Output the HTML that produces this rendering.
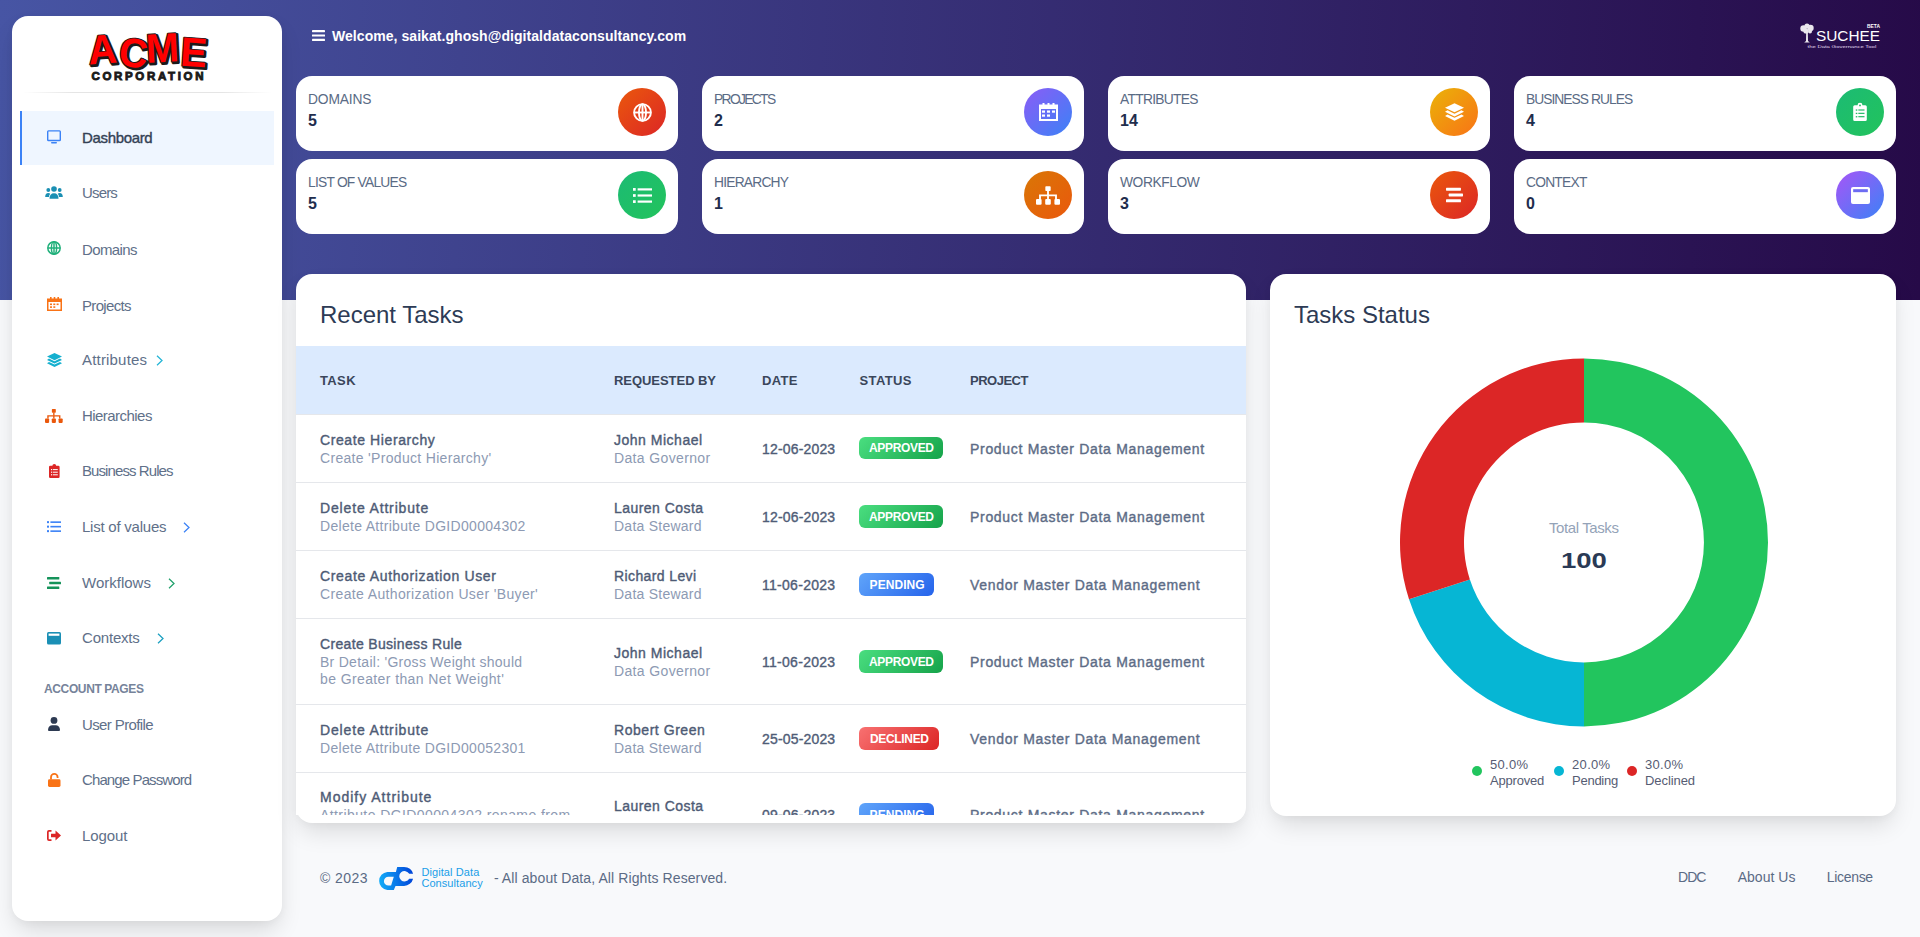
<!DOCTYPE html><html><head><meta charset="utf-8"><style>
*{box-sizing:border-box;margin:0;padding:0}
html,body{width:1920px;height:937px;overflow:hidden}
body{background:#f8f9fb;font-family:"Liberation Sans",sans-serif;position:relative}
.t{position:absolute;white-space:nowrap}
.abs{position:absolute}
.hdr{position:absolute;left:0;top:0;width:1920px;height:300px;background:linear-gradient(92deg,#4755a4 0%,#260a48 100%)}
.side{position:absolute;left:12px;top:16px;width:270px;height:905px;background:#fff;border-radius:16px;box-shadow:0 12px 24px -4px rgba(0,0,0,.14),0 2px 8px rgba(0,0,0,.03)}
.card{position:absolute;background:#fff;border-radius:16px}
.ic{position:absolute;width:48px;height:48px;border-radius:50%}
.big{position:absolute;background:#fff;border-radius:16px;box-shadow:0 12px 24px -4px rgba(0,0,0,.13),0 2px 8px rgba(0,0,0,.03)}
svg{position:absolute;overflow:visible}
</style></head><body>
<div class="hdr"></div>
<div class="side"></div><svg style="left:0;top:0" width="300" height="100" viewBox="0 0 300 100">
<g font-family="Liberation Sans" font-weight="700">
<text x="89" y="64.5 65.5 63 65.5" font-size="41" fill="#1a1a1a" stroke="#1a1a1a" stroke-width="3" stroke-linejoin="round" rotate="-4 6 -3 4" textLength="117" lengthAdjust="spacingAndGlyphs" transform="translate(1.5,1.2)">ACME</text>
<text x="89" y="64.5 65.5 63 65.5" font-size="41" fill="#ff0000" stroke="#1a1a1a" stroke-width="1.8" stroke-linejoin="round" paint-order="stroke" rotate="-4 6 -3 4" textLength="117" lengthAdjust="spacingAndGlyphs">ACME</text>
<text x="91.5" y="80.3" font-size="11.5" fill="#1a1a1a" stroke="#1a1a1a" stroke-width="0.9" textLength="112" lengthAdjust="spacing">CORPORATION</text>
</g></svg><div class="abs" style="left:22px;top:92px;width:250px;height:1px;background:linear-gradient(90deg,rgba(0,0,0,0),rgba(0,0,0,.10) 20%,rgba(0,0,0,.10) 80%,rgba(0,0,0,0))"></div><div class="abs" style="left:20px;top:111px;width:254px;height:54px;background:#eff6ff;border-left:2px solid #3b82f6"></div><div class="t" style="left:82.00px;top:130.38px;font-size:15px;line-height:15px;font-weight:400;color:#334155;-webkit-text-stroke:0.38px #334155;letter-spacing:-0.335px;">Dashboard</div><div class="t" style="left:82.00px;top:185.30px;font-size:15px;line-height:15px;font-weight:400;color:#607089;letter-spacing:-0.842px;">Users</div><div class="t" style="left:82.00px;top:241.55px;font-size:15px;line-height:15px;font-weight:400;color:#607089;letter-spacing:-0.615px;">Domains</div><div class="t" style="left:82.00px;top:297.50px;font-size:15px;line-height:15px;font-weight:400;color:#607089;letter-spacing:-0.669px;">Projects</div><div class="t" style="left:82.00px;top:352.20px;font-size:15px;line-height:15px;font-weight:400;color:#607089;letter-spacing:0.182px;">Attributes</div><div class="t" style="left:82.00px;top:407.95px;font-size:15px;line-height:15px;font-weight:400;color:#607089;letter-spacing:-0.546px;">Hierarchies</div><div class="t" style="left:82.00px;top:463.20px;font-size:15px;line-height:15px;font-weight:400;color:#607089;letter-spacing:-0.914px;">Business Rules</div><div class="t" style="left:82.00px;top:519.20px;font-size:15px;line-height:15px;font-weight:400;color:#607089;letter-spacing:-0.234px;">List of values</div><div class="t" style="left:82.00px;top:575.10px;font-size:15px;line-height:15px;font-weight:400;color:#607089;">Workflows</div><div class="t" style="left:82.00px;top:630.36px;font-size:15px;line-height:15px;font-weight:400;color:#607089;letter-spacing:-0.199px;">Contexts</div><div class="t" style="left:82.00px;top:717.20px;font-size:15px;line-height:15px;font-weight:400;color:#607089;letter-spacing:-0.614px;">User Profile</div><div class="t" style="left:82.00px;top:772.10px;font-size:15px;line-height:15px;font-weight:400;color:#607089;letter-spacing:-0.884px;">Change Password</div><div class="t" style="left:82.00px;top:828.00px;font-size:15px;line-height:15px;font-weight:400;color:#607089;letter-spacing:-0.096px;">Logout</div><div class="t" style="left:44.00px;top:682.84px;font-size:12px;line-height:12px;font-weight:700;color:#76839a;letter-spacing:-0.374px;">ACCOUNT PAGES</div><svg style="left:155.5px;top:354.5px" width="7" height="11" viewBox="0 0 7 11"><path d="M1 0.8 L6 5.5 L1 10.2" fill="none" stroke="#22b5d6" stroke-width="1.25"/></svg><svg style="left:182.5px;top:521.5px" width="7" height="11" viewBox="0 0 7 11"><path d="M1 0.8 L6 5.5 L1 10.2" fill="none" stroke="#3b82f6" stroke-width="1.25"/></svg><svg style="left:167.5px;top:577.5px" width="7" height="11" viewBox="0 0 7 11"><path d="M1 0.8 L6 5.5 L1 10.2" fill="none" stroke="#20a06b" stroke-width="1.25"/></svg><svg style="left:156.5px;top:632.5px" width="7" height="11" viewBox="0 0 7 11"><path d="M1 0.8 L6 5.5 L1 10.2" fill="none" stroke="#1a9fc0" stroke-width="1.25"/></svg><svg style="left:47px;top:130px" width="14" height="14" viewBox="0 0 14 14"><rect x="0.7" y="0.9" width="12.6" height="9.6" rx="0.8" fill="none" stroke="#3b82f6" stroke-width="1.4"/><rect x="4" y="12" width="6" height="1.6" rx="0.8" fill="#3b82f6"/></svg><svg style="left:45px;top:186px" width="18" height="13" viewBox="0 0 18 13" fill="#1a8fb3"><circle cx="9" cy="3" r="2.8"/><circle cx="3.3" cy="4" r="1.9"/><circle cx="14.7" cy="4" r="1.9"/><path d="M4.5 12.8 C4.5 9 6 7.2 9 7.2 C12 7.2 13.5 9 13.5 12.8 Z"/><path d="M0.2 11 C0.2 8.3 1.3 7 3.3 7 C4.2 7 4.8 7.3 5.2 7.7 C4.4 8.6 4 9.8 4 11 Z"/><path d="M17.8 11 C17.8 8.3 16.7 7 14.7 7 C13.8 7 13.2 7.3 12.8 7.7 C13.6 8.6 14 9.8 14 11 Z"/></svg><svg style="left:47px;top:241px" width="14" height="14" viewBox="0 0 14 14"><g fill="none" stroke="#21b07b" stroke-width="1.5"><circle cx="7" cy="7" r="6.2"/><ellipse cx="7" cy="7" rx="2.6" ry="6.2"/><line x1="7" y1="0.8" x2="7" y2="13.2"/><line x1="0.8" y1="7" x2="13.2" y2="7"/></g></svg><svg style="left:47px;top:297px" width="15" height="14" viewBox="0 0 15 14"><path fill="#f97316" d="M0 1.5 H15 V14 H0 Z M1.5 5 V12.5 H13.5 V5 Z"/><rect x="3" y="0" width="1.6" height="2.5" fill="#f97316"/><rect x="6.7" y="0" width="1.6" height="2.5" fill="#f97316"/><rect x="10.4" y="0" width="1.6" height="2.5" fill="#f97316"/><g fill="#f97316"><rect x="3" y="6.5" width="2" height="1.6"/><rect x="6.3" y="6.5" width="2" height="1.6"/><rect x="9.6" y="6.5" width="2" height="1.6"/><rect x="3" y="9.3" width="2" height="1.6"/><rect x="6.3" y="9.3" width="2" height="1.6"/></g></svg><svg style="left:46.5px;top:353px" width="15" height="14" viewBox="0 0 15 14" fill="#15b0cf"><path d="M7.5 0 L15 3.6 L7.5 7.2 L0 3.6 Z"/><path d="M2 5.6 L7.5 8.3 L13 5.6 L15 6.9 L7.5 10.5 L0 6.9 Z"/><path d="M2 8.9 L7.5 11.6 L13 8.9 L15 10.2 L7.5 14 L0 10.2 Z"/></svg><svg style="left:45.3px;top:409px" width="17.7" height="14" viewBox="0 0 18 14" fill="#ea580c"><rect x="7" y="0" width="4" height="3.6" rx="0.6"/><rect x="8.3" y="3.4" width="1.4" height="3.4"/><path d="M2.3 9.6 V6.2 H15.7 V9.6 H14.3 V7.6 H3.7 V9.6 Z"/><rect x="8.3" y="7" width="1.4" height="2.6"/><rect x="0" y="9.6" width="4.2" height="4.4" rx="0.8"/><rect x="6.9" y="9.6" width="4.2" height="4.4" rx="0.8"/><rect x="13.8" y="9.6" width="4.2" height="4.4" rx="0.8"/></svg><svg style="left:48.9px;top:464px" width="10.6" height="14" viewBox="0 0 10.6 14"><path fill="#dc2626" d="M1.2 1.8 H3.4 A1.9 1.9 0 0 1 7.2 1.8 H9.4 A1.2 1.2 0 0 1 10.6 3 V12.8 A1.2 1.2 0 0 1 9.4 14 H1.2 A1.2 1.2 0 0 1 0 12.8 V3 A1.2 1.2 0 0 1 1.2 1.8 Z"/><g fill="#fff"><rect x="2" y="5" width="1.2" height="1.2"/><rect x="4" y="5.1" width="4.8" height="1"/><rect x="2" y="7.6" width="1.2" height="1.2"/><rect x="4" y="7.7" width="4.8" height="1"/><rect x="2" y="10.2" width="1.2" height="1.2"/><rect x="4" y="10.3" width="4.8" height="1"/></g></svg><svg style="left:47px;top:521px" width="14" height="11.3" viewBox="0 0 14 11" fill="#3b82f6"><rect x="0" y="0" width="2" height="2"/><rect x="3.4" y="0.2" width="10.6" height="1.6"/><rect x="0" y="4.5" width="2" height="2"/><rect x="3.4" y="4.7" width="10.6" height="1.6"/><rect x="0" y="9" width="2" height="2"/><rect x="3.4" y="9.2" width="10.6" height="1.6"/></svg><svg style="left:47px;top:576.7px" width="14" height="12" viewBox="0 0 14 12" fill="#15935a"><rect x="0" y="0" width="12.3" height="2.4" rx="0.5"/><rect x="2.2" y="4.8" width="11.8" height="2.4" rx="0.5"/><rect x="0" y="9.6" width="12.3" height="2.4" rx="0.5"/></svg><svg style="left:47px;top:631.5px" width="14" height="12.5" viewBox="0 0 14 12.5"><rect x="0" y="0" width="14" height="12.5" rx="1.5" fill="#1a8fb5"/><rect x="1.6" y="1.6" width="10.8" height="2.2" fill="#ffffff"/></svg><svg style="left:48.3px;top:717px" width="12" height="14" viewBox="0 0 12 14" fill="#2d3a52"><circle cx="6" cy="3.4" r="3.4"/><path d="M0 13 C0 9.8 2 8.2 4.2 8.2 H7.8 C10 8.2 12 9.8 12 13 A1 1 0 0 1 11 14 H1 A1 1 0 0 1 0 13 Z"/></svg><svg style="left:47.9px;top:772.8px" width="12.5" height="14" viewBox="0 0 12.5 14"><path d="M3 6.5 V4.2 A3.3 3.3 0 0 1 9.6 4.2 V5" fill="none" stroke="#f97316" stroke-width="1.8"/><rect x="0" y="6.3" width="12.5" height="7.7" rx="1.4" fill="#f97316"/></svg><svg style="left:46.9px;top:830.4px" width="14" height="11" viewBox="0 0 14 11" fill="#dc2626"><path d="M4.5 0 H2 A2 2 0 0 0 0 2 V9 A2 2 0 0 0 2 11 H4.5 V9.3 H2 A0.3 0.3 0 0 1 1.7 9 V2 A0.3 0.3 0 0 1 2 1.7 H4.5 Z"/><path d="M8.5 0.6 L14 5.5 L8.5 10.4 V7.3 H4 V3.7 H8.5 Z"/></svg><svg style="left:312px;top:30px" width="13" height="11" viewBox="0 0 13 11" fill="#fff"><rect x="0" y="0" width="13" height="2.2" rx="0.4"/><rect x="0" y="4.4" width="13" height="2.2" rx="0.4"/><rect x="0" y="8.8" width="13" height="2.2" rx="0.4"/></svg><div class="t" style="left:332.00px;top:28.55px;font-size:14px;line-height:14px;font-weight:700;color:#ffffff;letter-spacing:0.055px;">Welcome, saikat.ghosh@digitaldataconsultancy.com</div><svg style="left:0;top:0" width="1920" height="60" viewBox="0 0 1920 60"><g fill="#fff" opacity="0.9"><circle cx="1803.5" cy="28.5" r="3.2"/><circle cx="1807" cy="26" r="2.6"/><circle cx="1810.5" cy="28" r="3.2"/><circle cx="1806" cy="31" r="2.6"/><circle cx="1810" cy="31.5" r="2"/><path d="M1806.2 31 H1807.8 L1808 41 L1809.8 42.5 H1804.2 L1806 41 Z"/></g>
<text x="1816" y="40.6" font-family="Liberation Sans" font-size="15.5" fill="#fff" textLength="64" lengthAdjust="spacingAndGlyphs">SUCHEE</text>
<text x="1867" y="27.9" font-family="Liberation Sans" font-weight="700" font-size="4.6" fill="#fff" textLength="13" lengthAdjust="spacingAndGlyphs">BETA</text>
<text x="1807.5" y="48" font-family="Liberation Sans" font-size="4" fill="#e2dcf0" textLength="68.7" lengthAdjust="spacingAndGlyphs">the Data Governance Tool</text></svg><div class="card" style="left:296px;top:76px;width:382px;height:75px"></div><div class="t" style="left:308.00px;top:92.52px;font-size:13.8px;line-height:13.8px;font-weight:400;color:#5a6b85;letter-spacing:-0.148px;">DOMAINS</div><div class="t" style="left:308.00px;top:113.26px;font-size:16px;line-height:16px;font-weight:700;color:#1f2d4d;">5</div><div class="ic" style="left:618px;top:88px;background:linear-gradient(135deg,#ea580c,#dc2626)"></div><svg style="left:632.5px;top:102.5px" width="19" height="19" viewBox="0 0 14 14"><g fill="none" stroke="#fff" stroke-width="1.4"><circle cx="7" cy="7" r="6.2"/><ellipse cx="7" cy="7" rx="2.6" ry="6.2"/><line x1="7" y1="0.8" x2="7" y2="13.2"/><line x1="0.8" y1="7" x2="13.2" y2="7"/></g></svg><div class="card" style="left:702px;top:76px;width:382px;height:75px"></div><div class="t" style="left:714.00px;top:92.52px;font-size:13.8px;line-height:13.8px;font-weight:400;color:#5a6b85;letter-spacing:-1.641px;">PROJECTS</div><div class="t" style="left:714.00px;top:113.26px;font-size:16px;line-height:16px;font-weight:700;color:#1f2d4d;">2</div><div class="ic" style="left:1024px;top:88px;background:linear-gradient(135deg,#8b5cf6,#3b82f6)"></div><svg style="left:1038.5px;top:103px" width="19" height="18" viewBox="0 0 19 18"><path fill="#fff" d="M0 1.5 H19 V18 H0 Z M2 6 V16 H17 V6 Z"/><g fill="#fff"><rect x="3.5" y="0" width="2" height="3"/><rect x="8.5" y="0" width="2" height="3"/><rect x="13.5" y="0" width="2" height="3"/><rect x="3" y="7.5" width="3" height="2.2"/><rect x="8" y="7.5" width="3" height="2.2"/><rect x="13" y="7.5" width="3" height="2.2"/><rect x="3" y="11.5" width="3" height="2.2"/><rect x="8" y="11.5" width="3" height="2.2"/></g></svg><div class="card" style="left:1108px;top:76px;width:382px;height:75px"></div><div class="t" style="left:1120.00px;top:92.52px;font-size:13.8px;line-height:13.8px;font-weight:400;color:#5a6b85;letter-spacing:-0.703px;">ATTRIBUTES</div><div class="t" style="left:1120.00px;top:113.26px;font-size:16px;line-height:16px;font-weight:700;color:#1f2d4d;">14</div><div class="ic" style="left:1430px;top:88px;background:linear-gradient(135deg,#eab308,#f97316)"></div><svg style="left:1444.5px;top:103px" width="19" height="18" viewBox="0 0 15 14" fill="#fff"><path d="M7.5 0 L15 3.6 L7.5 7.2 L0 3.6 Z"/><path d="M2 5.6 L7.5 8.3 L13 5.6 L15 6.9 L7.5 10.5 L0 6.9 Z"/><path d="M2 8.9 L7.5 11.6 L13 8.9 L15 10.2 L7.5 14 L0 10.2 Z"/></svg><div class="card" style="left:1514px;top:76px;width:382px;height:75px"></div><div class="t" style="left:1526.00px;top:92.52px;font-size:13.8px;line-height:13.8px;font-weight:400;color:#5a6b85;letter-spacing:-0.962px;">BUSINESS RULES</div><div class="t" style="left:1526.00px;top:113.26px;font-size:16px;line-height:16px;font-weight:700;color:#1f2d4d;">4</div><div class="ic" style="left:1836px;top:88px;background:linear-gradient(135deg,#1cbb74,#22c35c)"></div><svg style="left:1853px;top:103px" width="14" height="18" viewBox="0 0 10.6 14"><path fill="#fff" d="M1.2 1.8 H3.4 A1.9 1.9 0 0 1 7.2 1.8 H9.4 A1.2 1.2 0 0 1 10.6 3 V12.8 A1.2 1.2 0 0 1 9.4 14 H1.2 A1.2 1.2 0 0 1 0 12.8 V3 A1.2 1.2 0 0 1 1.2 1.8 Z"/><g fill="#1fba63"><circle cx="5.3" cy="1.9" r="0.7"/><rect x="2" y="5" width="1.2" height="1"/><rect x="4" y="5" width="4.8" height="0.9"/><rect x="2" y="7.6" width="1.2" height="1"/><rect x="4" y="7.6" width="4.8" height="0.9"/><rect x="2" y="10.2" width="1.2" height="1"/><rect x="4" y="10.2" width="4.8" height="0.9"/></g></svg><div class="card" style="left:296px;top:159px;width:382px;height:75px"></div><div class="t" style="left:308.00px;top:175.52px;font-size:13.8px;line-height:13.8px;font-weight:400;color:#5a6b85;letter-spacing:-0.768px;">LIST OF VALUES</div><div class="t" style="left:308.00px;top:196.26px;font-size:16px;line-height:16px;font-weight:700;color:#1f2d4d;">5</div><div class="ic" style="left:618px;top:171px;background:linear-gradient(135deg,#1cbb74,#22c35c)"></div><svg style="left:632.5px;top:187.5px" width="19" height="15" viewBox="0 0 14 11" fill="#fff"><rect x="0" y="0" width="2" height="2"/><rect x="3.4" y="0.2" width="10.6" height="1.6"/><rect x="0" y="4.5" width="2" height="2"/><rect x="3.4" y="4.7" width="10.6" height="1.6"/><rect x="0" y="9" width="2" height="2"/><rect x="3.4" y="9.2" width="10.6" height="1.6"/></svg><div class="card" style="left:702px;top:159px;width:382px;height:75px"></div><div class="t" style="left:714.00px;top:175.52px;font-size:13.8px;line-height:13.8px;font-weight:400;color:#5a6b85;letter-spacing:-0.782px;">HIERARCHY</div><div class="t" style="left:714.00px;top:196.26px;font-size:16px;line-height:16px;font-weight:700;color:#1f2d4d;">1</div><div class="ic" style="left:1024px;top:171px;background:linear-gradient(135deg,#d97706,#ea580c)"></div><svg style="left:1036px;top:185.5px" width="24" height="19" viewBox="0 0 18 14" fill="#fff"><rect x="7" y="0" width="4" height="3.6" rx="0.6"/><rect x="8.3" y="3.4" width="1.4" height="3.4"/><path d="M2.3 9.6 V6.2 H15.7 V9.6 H14.3 V7.6 H3.7 V9.6 Z"/><rect x="8.3" y="7" width="1.4" height="2.6"/><rect x="0" y="9.6" width="4.2" height="4.4" rx="0.8"/><rect x="6.9" y="9.6" width="4.2" height="4.4" rx="0.8"/><rect x="13.8" y="9.6" width="4.2" height="4.4" rx="0.8"/></svg><div class="card" style="left:1108px;top:159px;width:382px;height:75px"></div><div class="t" style="left:1120.00px;top:175.52px;font-size:13.8px;line-height:13.8px;font-weight:400;color:#5a6b85;letter-spacing:-0.439px;">WORKFLOW</div><div class="t" style="left:1120.00px;top:196.26px;font-size:16px;line-height:16px;font-weight:700;color:#1f2d4d;">3</div><div class="ic" style="left:1430px;top:171px;background:linear-gradient(135deg,#ea580c,#dc2626)"></div><svg style="left:1445.5px;top:187px" width="17" height="16" viewBox="0 0 14 12" fill="#fff"><rect x="0" y="0" width="12.3" height="2.4" rx="0.5"/><rect x="2.2" y="4.8" width="11.8" height="2.4" rx="0.5"/><rect x="0" y="9.6" width="12.3" height="2.4" rx="0.5"/></svg><div class="card" style="left:1514px;top:159px;width:382px;height:75px"></div><div class="t" style="left:1526.00px;top:175.52px;font-size:13.8px;line-height:13.8px;font-weight:400;color:#5a6b85;letter-spacing:-0.769px;">CONTEXT</div><div class="t" style="left:1526.00px;top:196.26px;font-size:16px;line-height:16px;font-weight:700;color:#1f2d4d;">0</div><div class="ic" style="left:1836px;top:171px;background:linear-gradient(135deg,#a855f7,#3b82f6)"></div><svg style="left:1850.5px;top:186.5px" width="19" height="17" viewBox="0 0 14 12.5"><rect x="0" y="0" width="14" height="12.5" rx="1.5" fill="#fff"/><rect x="1.6" y="1.6" width="10.8" height="2.2" fill="#6d6cf2"/></svg><div class="big" style="left:296px;top:274px;width:950px;height:549px"></div><div class="t" style="left:320.00px;top:302.58px;font-size:24px;line-height:24px;font-weight:400;color:#2d3b55;letter-spacing:-0.013px;">Recent Tasks</div><div class="abs" style="left:296px;top:346px;width:950px;height:469px;overflow:hidden;background:#fff;border-radius:0 0 15px 0"><div class="abs" style="left:0;top:0;width:950px;height:69px;background:#dbeafe;border-bottom:1px solid #e5e7eb"></div><div class="t" style="left:24.00px;top:28.10px;font-size:13px;line-height:13px;font-weight:700;color:#3a465b;letter-spacing:0.372px;">TASK</div><div class="t" style="left:318.00px;top:28.10px;font-size:13px;line-height:13px;font-weight:700;color:#3a465b;letter-spacing:-0.048px;">REQUESTED BY</div><div class="t" style="left:466.00px;top:28.10px;font-size:13px;line-height:13px;font-weight:700;color:#3a465b;letter-spacing:0.339px;">DATE</div><div class="t" style="left:563.50px;top:28.10px;font-size:13px;line-height:13px;font-weight:700;color:#3a465b;letter-spacing:0.394px;">STATUS</div><div class="t" style="left:674.00px;top:28.10px;font-size:13px;line-height:13px;font-weight:700;color:#3a465b;letter-spacing:-0.493px;">PROJECT</div><div class="abs" style="left:0;top:136px;width:950px;height:1px;background:#e5e7eb"></div><div class="abs" style="left:0;top:204px;width:950px;height:1px;background:#e5e7eb"></div><div class="abs" style="left:0;top:272px;width:950px;height:1px;background:#e5e7eb"></div><div class="abs" style="left:0;top:358px;width:950px;height:1px;background:#e5e7eb"></div><div class="abs" style="left:0;top:426px;width:950px;height:1px;background:#e5e7eb"></div><div class="t" style="left:24.00px;top:86.85px;font-size:14px;line-height:14px;font-weight:400;color:#4e5b75;-webkit-text-stroke:0.38px #4e5b75;letter-spacing:0.600px;">Create Hierarchy</div><div class="t" style="left:24.00px;top:105.05px;font-size:14px;line-height:14px;font-weight:400;color:#8d9ab3;letter-spacing:0.313px;">Create &#x27;Product Hierarchy&#x27;</div><div class="t" style="left:318.00px;top:86.85px;font-size:14px;line-height:14px;font-weight:400;color:#4e5b75;-webkit-text-stroke:0.38px #4e5b75;letter-spacing:0.512px;">John Michael</div><div class="t" style="left:318.00px;top:105.05px;font-size:14px;line-height:14px;font-weight:400;color:#8d9ab3;letter-spacing:0.358px;">Data Governor</div><div class="t" style="left:466.00px;top:95.90px;font-size:14px;line-height:14px;font-weight:400;color:#505d77;-webkit-text-stroke:0.38px #505d77;letter-spacing:0.167px;">12-06-2023</div><div class="abs" style="left:563.2px;top:90.9px;width:83.6px;height:22.6px;border-radius:6px;background:linear-gradient(135deg,#4ade80,#16a34a)"></div><div class="t" style="left:573.00px;top:96.49px;font-size:12px;line-height:12px;font-weight:700;color:#ffffff;letter-spacing:-0.341px;">APPROVED</div><div class="t" style="left:674.00px;top:95.90px;font-size:14px;line-height:14px;font-weight:400;color:#5d6c86;-webkit-text-stroke:0.38px #5d6c86;letter-spacing:0.694px;">Product Master Data Management</div><div class="t" style="left:24.00px;top:155.10px;font-size:14px;line-height:14px;font-weight:400;color:#4e5b75;-webkit-text-stroke:0.38px #4e5b75;letter-spacing:0.842px;">Delete Attribute</div><div class="t" style="left:24.00px;top:173.30px;font-size:14px;line-height:14px;font-weight:400;color:#8d9ab3;letter-spacing:0.302px;">Delete Attribute DGID00004302</div><div class="t" style="left:318.00px;top:155.10px;font-size:14px;line-height:14px;font-weight:400;color:#4e5b75;-webkit-text-stroke:0.38px #4e5b75;letter-spacing:0.460px;">Lauren Costa</div><div class="t" style="left:318.00px;top:173.30px;font-size:14px;line-height:14px;font-weight:400;color:#8d9ab3;letter-spacing:0.245px;">Data Steward</div><div class="t" style="left:466.00px;top:164.15px;font-size:14px;line-height:14px;font-weight:400;color:#505d77;-webkit-text-stroke:0.38px #505d77;letter-spacing:0.167px;">12-06-2023</div><div class="abs" style="left:563.2px;top:159.2px;width:83.6px;height:22.6px;border-radius:6px;background:linear-gradient(135deg,#4ade80,#16a34a)"></div><div class="t" style="left:573.00px;top:164.74px;font-size:12px;line-height:12px;font-weight:700;color:#ffffff;letter-spacing:-0.341px;">APPROVED</div><div class="t" style="left:674.00px;top:164.15px;font-size:14px;line-height:14px;font-weight:400;color:#5d6c86;-webkit-text-stroke:0.38px #5d6c86;letter-spacing:0.694px;">Product Master Data Management</div><div class="t" style="left:24.00px;top:223.10px;font-size:14px;line-height:14px;font-weight:400;color:#4e5b75;-webkit-text-stroke:0.38px #4e5b75;letter-spacing:0.652px;">Create Authorization User</div><div class="t" style="left:24.00px;top:241.30px;font-size:14px;line-height:14px;font-weight:400;color:#8d9ab3;letter-spacing:0.364px;">Create Authorization User &#x27;Buyer&#x27;</div><div class="t" style="left:318.00px;top:223.10px;font-size:14px;line-height:14px;font-weight:400;color:#4e5b75;-webkit-text-stroke:0.38px #4e5b75;letter-spacing:0.392px;">Richard Levi</div><div class="t" style="left:318.00px;top:241.30px;font-size:14px;line-height:14px;font-weight:400;color:#8d9ab3;letter-spacing:0.245px;">Data Steward</div><div class="t" style="left:466.00px;top:232.15px;font-size:14px;line-height:14px;font-weight:400;color:#505d77;-webkit-text-stroke:0.38px #505d77;letter-spacing:0.283px;">11-06-2023</div><div class="abs" style="left:563.2px;top:227.2px;width:74.8px;height:22.6px;border-radius:6px;background:linear-gradient(135deg,#60a5fa,#2563eb)"></div><div class="t" style="left:573.60px;top:232.74px;font-size:12px;line-height:12px;font-weight:700;color:#ffffff;letter-spacing:0.048px;">PENDING</div><div class="t" style="left:674.00px;top:232.15px;font-size:14px;line-height:14px;font-weight:400;color:#5d6c86;-webkit-text-stroke:0.38px #5d6c86;letter-spacing:0.697px;">Vendor Master Data Management</div><div class="t" style="left:24.00px;top:291.15px;font-size:14px;line-height:14px;font-weight:400;color:#4e5b75;-webkit-text-stroke:0.38px #4e5b75;letter-spacing:0.333px;">Create Business Rule</div><div class="t" style="left:24.00px;top:309.15px;font-size:14px;line-height:14px;font-weight:400;color:#8d9ab3;letter-spacing:0.276px;">Br Detail: &#x27;Gross Weight should</div><div class="t" style="left:24.00px;top:325.85px;font-size:14px;line-height:14px;font-weight:400;color:#8d9ab3;letter-spacing:0.392px;">be Greater than Net Weight&#x27;</div><div class="t" style="left:318.00px;top:300.10px;font-size:14px;line-height:14px;font-weight:400;color:#4e5b75;-webkit-text-stroke:0.38px #4e5b75;letter-spacing:0.512px;">John Michael</div><div class="t" style="left:318.00px;top:318.30px;font-size:14px;line-height:14px;font-weight:400;color:#8d9ab3;letter-spacing:0.358px;">Data Governor</div><div class="t" style="left:466.00px;top:309.15px;font-size:14px;line-height:14px;font-weight:400;color:#505d77;-webkit-text-stroke:0.38px #505d77;letter-spacing:0.283px;">11-06-2023</div><div class="abs" style="left:563.2px;top:304.2px;width:83.6px;height:22.6px;border-radius:6px;background:linear-gradient(135deg,#4ade80,#16a34a)"></div><div class="t" style="left:573.00px;top:309.74px;font-size:12px;line-height:12px;font-weight:700;color:#ffffff;letter-spacing:-0.341px;">APPROVED</div><div class="t" style="left:674.00px;top:309.15px;font-size:14px;line-height:14px;font-weight:400;color:#5d6c86;-webkit-text-stroke:0.38px #5d6c86;letter-spacing:0.694px;">Product Master Data Management</div><div class="t" style="left:24.00px;top:377.10px;font-size:14px;line-height:14px;font-weight:400;color:#4e5b75;-webkit-text-stroke:0.38px #4e5b75;letter-spacing:0.842px;">Delete Attribute</div><div class="t" style="left:24.00px;top:395.30px;font-size:14px;line-height:14px;font-weight:400;color:#8d9ab3;letter-spacing:0.302px;">Delete Attribute DGID00052301</div><div class="t" style="left:318.00px;top:377.10px;font-size:14px;line-height:14px;font-weight:400;color:#4e5b75;-webkit-text-stroke:0.38px #4e5b75;letter-spacing:0.545px;">Robert Green</div><div class="t" style="left:318.00px;top:395.30px;font-size:14px;line-height:14px;font-weight:400;color:#8d9ab3;letter-spacing:0.245px;">Data Steward</div><div class="t" style="left:466.00px;top:386.15px;font-size:14px;line-height:14px;font-weight:400;color:#505d77;-webkit-text-stroke:0.38px #505d77;letter-spacing:0.167px;">25-05-2023</div><div class="abs" style="left:563.2px;top:381.2px;width:79.7px;height:22.6px;border-radius:6px;background:linear-gradient(135deg,#f87171,#dc2626)"></div><div class="t" style="left:574.05px;top:386.74px;font-size:12px;line-height:12px;font-weight:700;color:#ffffff;letter-spacing:-0.339px;">DECLINED</div><div class="t" style="left:674.00px;top:386.15px;font-size:14px;line-height:14px;font-weight:400;color:#5d6c86;-webkit-text-stroke:0.38px #5d6c86;letter-spacing:0.697px;">Vendor Master Data Management</div><div class="t" style="left:24.00px;top:444.15px;font-size:14px;line-height:14px;font-weight:400;color:#4e5b75;-webkit-text-stroke:0.38px #4e5b75;letter-spacing:0.991px;">Modify Attribute</div><div class="t" style="left:24.00px;top:462.15px;font-size:14px;line-height:14px;font-weight:400;color:#8d9ab3;letter-spacing:0.411px;">Attribute DGID00004302 rename from</div><div class="t" style="left:24.00px;top:478.85px;font-size:14px;line-height:14px;font-weight:400;color:#8d9ab3;letter-spacing:3.444px;">to</div><div class="t" style="left:318.00px;top:453.10px;font-size:14px;line-height:14px;font-weight:400;color:#4e5b75;-webkit-text-stroke:0.38px #4e5b75;letter-spacing:0.460px;">Lauren Costa</div><div class="t" style="left:318.00px;top:471.30px;font-size:14px;line-height:14px;font-weight:400;color:#8d9ab3;letter-spacing:0.245px;">Data Steward</div><div class="t" style="left:466.00px;top:462.15px;font-size:14px;line-height:14px;font-weight:400;color:#505d77;-webkit-text-stroke:0.38px #505d77;letter-spacing:0.167px;">09-06-2023</div><div class="abs" style="left:563.2px;top:457.2px;width:74.8px;height:22.6px;border-radius:6px;background:linear-gradient(135deg,#60a5fa,#2563eb)"></div><div class="t" style="left:573.60px;top:462.74px;font-size:12px;line-height:12px;font-weight:700;color:#ffffff;letter-spacing:0.048px;">PENDING</div><div class="t" style="left:674.00px;top:462.15px;font-size:14px;line-height:14px;font-weight:400;color:#5d6c86;-webkit-text-stroke:0.38px #5d6c86;letter-spacing:0.694px;">Product Master Data Management</div></div><div class="big" style="left:1270px;top:274px;width:626px;height:542px"></div><div class="t" style="left:1294.00px;top:302.58px;font-size:24px;line-height:24px;font-weight:400;color:#2d3b55;letter-spacing:-0.012px;">Tasks Status</div><svg style="left:0;top:0" width="1920" height="937" viewBox="0 0 1920 937"><path fill="#22c55e" d="M1584.00 358.40 A184 184 0 0 1 1584.00 726.40 L1584.00 662.40 A120 120 0 0 0 1584.00 422.40 Z"/><path fill="#06b6d4" d="M1584.00 726.40 A184 184 0 0 1 1409.01 599.26 L1469.87 579.48 A120 120 0 0 0 1584.00 662.40 Z"/><path fill="#dc2626" d="M1409.01 599.26 A184 184 0 0 1 1584.00 358.40 L1584.00 422.40 A120 120 0 0 0 1469.87 579.48 Z"/></svg><div class="t" style="left:1549.00px;top:520.10px;font-size:15px;line-height:15px;font-weight:400;color:#94a3b8;letter-spacing:-0.399px;">Total Tasks</div><div class="t" style="left:1561.00px;top:550.38px;font-size:22px;line-height:22px;font-weight:700;color:#2a3a55;transform:scaleX(1.25);transform-origin:0 0;">100</div><div class="abs" style="left:1471.9px;top:765.8px;width:10px;height:10px;border-radius:50%;background:#22c55e"></div><div class="t" style="left:1490.00px;top:757.90px;font-size:13px;line-height:13px;font-weight:400;color:#565c73;letter-spacing:0.295px;">50.0%</div><div class="t" style="left:1490.00px;top:773.90px;font-size:13px;line-height:13px;font-weight:400;color:#565c73;letter-spacing:-0.187px;">Approved</div><div class="abs" style="left:1554.0px;top:765.8px;width:10px;height:10px;border-radius:50%;background:#06b6d4"></div><div class="t" style="left:1572.10px;top:757.90px;font-size:13px;line-height:13px;font-weight:400;color:#565c73;letter-spacing:0.295px;">20.0%</div><div class="t" style="left:1572.10px;top:773.90px;font-size:13px;line-height:13px;font-weight:400;color:#565c73;letter-spacing:-0.278px;">Pending</div><div class="abs" style="left:1626.9px;top:765.8px;width:10px;height:10px;border-radius:50%;background:#dc2626"></div><div class="t" style="left:1645.00px;top:757.90px;font-size:13px;line-height:13px;font-weight:400;color:#565c73;letter-spacing:0.295px;">30.0%</div><div class="t" style="left:1645.00px;top:773.90px;font-size:13px;line-height:13px;font-weight:400;color:#565c73;letter-spacing:-0.078px;">Declined</div><div class="t" style="left:320.00px;top:870.85px;font-size:14px;line-height:14px;font-weight:400;color:#5b6b85;letter-spacing:0.454px;">© 2023</div><svg style="left:0;top:0" width="1920" height="937" viewBox="0 0 1920 937"><defs><linearGradient id="dcg" gradientUnits="userSpaceOnUse" x1="379" y1="880" x2="414" y2="876"><stop offset="0" stop-color="#12acf8"/><stop offset="1" stop-color="#0042d8"/></linearGradient></defs>
<path fill="url(#dcg)" fill-rule="evenodd" d="M397.2 867 H404.1 A9.4 9.4 0 0 1 413.1 873.8 H409.2 A5.3 5.15 0 1 0 409.2 878.7 H413.1 A9.4 9.4 0 0 1 404.1 885.9 H395.5 L393.8 890 H387.3 A9.1 9.1 0 0 1 387.3 871.9 H395.9 Z M393.8 876.7 L391.1 885.6 H388.5 A4.6 4.45 0 0 1 388.5 876.7 Z"/></svg><div class="t" style="left:421.40px;top:866.99px;font-size:11px;line-height:11px;font-weight:400;color:#1a9ee8;letter-spacing:0.093px;">Digital Data</div><div class="t" style="left:421.40px;top:878.39px;font-size:11px;line-height:11px;font-weight:400;color:#1a9ee8;letter-spacing:0.075px;">Consultancy</div><div class="t" style="left:493.90px;top:870.95px;font-size:14px;line-height:14px;font-weight:400;color:#5b6b85;letter-spacing:0.100px;">- All about Data, All Rights Reserved.</div><div class="t" style="left:1678.00px;top:870.35px;font-size:14px;line-height:14px;font-weight:400;color:#5b6b85;letter-spacing:-0.956px;">DDC</div><div class="t" style="left:1737.70px;top:870.35px;font-size:14px;line-height:14px;font-weight:400;color:#5b6b85;letter-spacing:0.019px;">About Us</div><div class="t" style="left:1826.70px;top:870.35px;font-size:14px;line-height:14px;font-weight:400;color:#5b6b85;letter-spacing:-0.306px;">License</div></body></html>
